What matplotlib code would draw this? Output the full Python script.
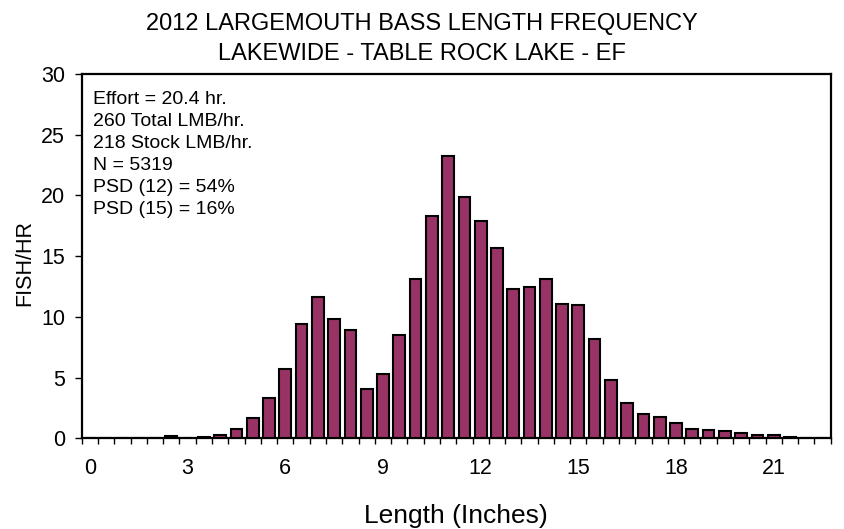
import matplotlib
matplotlib.use("Agg")
import matplotlib.pyplot as plt
from matplotlib.ticker import FixedLocator

plt.rcParams['font.family'] = ['Liberation Sans', 'DejaVu Sans']

length_bins = [0.0, 0.5, 1.0, 1.5, 2.0, 2.5, 3.0, 3.5, 4.0, 4.5, 5.0, 5.5,
               6.0, 6.5, 7.0, 7.5, 8.0, 8.5, 9.0, 9.5, 10.0, 10.5, 11.0, 11.5,
               12.0, 12.5, 13.0, 13.5, 14.0, 14.5, 15.0, 15.5, 16.0, 16.5,
               17.0, 17.5, 18.0, 18.5, 19.0, 19.5, 20.0, 20.5, 21.0, 21.5,
               22.0, 22.5]
fish_per_hr = [0, 0, 0, 0, 0, 0.2, 0, 0.12, 0.25, 0.74, 1.67, 3.35,
               5.74, 9.44, 11.6, 9.85, 8.95, 4.06, 5.3, 8.48, 13.15, 18.3, 23.25, 19.9,
               17.9, 15.7, 12.27, 12.46, 13.1, 11.03, 10.95, 8.15, 4.83, 2.9,
               1.97, 1.73, 1.26, 0.77, 0.68, 0.6, 0.46, 0.3, 0.25, 0.1,
               0, 0]
x_tick_labels = ["0", "3", "6", "9", "12", "15", "18", "21"]
y_ticks = [0, 5, 10, 15, 20, 25, 30]
stats_lines = ["Effort = 20.4 hr.", "260 Total LMB/hr.", "218 Stock LMB/hr.",
               "N = 5319", "PSD (12) = 54%", "PSD (15) = 16%"]
title = "2012 LARGEMOUTH BASS LENGTH FREQUENCY\nLAKEWIDE - TABLE ROCK LAKE - EF"

fig = plt.figure(figsize=(8.44, 5.29), dpi=100)
ax = fig.add_axes([0.0968, 0.1715, 0.8875, 0.6886])

pos = list(range(len(length_bins)))
ax.bar(pos, fish_per_hr, width=0.72, color="#993366", edgecolor="black",
       linewidth=1.5, zorder=3)

ax.set_xlim(-0.5, len(length_bins) - 0.5)
ax.set_ylim(0, 30)

label_pos = [i for i, v in enumerate(length_bins) if v in [float(t) for t in x_tick_labels]]
ax.set_xticks(label_pos)
ax.set_xticklabels(x_tick_labels)
ax.xaxis.set_minor_locator(FixedLocator([p - 0.5 for p in range(len(length_bins) + 1)]))
ax.tick_params(axis='x', which='major', length=0, pad=14, labelsize=15.5)
ax.tick_params(axis='x', which='minor', length=4.5, width=1.0, direction='out')
ax.set_yticks(y_ticks)
ax.tick_params(axis='y', which='major', length=5, width=1.0, direction='out', pad=7,
               labelsize=15.5)

for s in ax.spines.values():
    s.set_linewidth(1.6)
    s.set_color("black")

ax.set_ylabel("FISH/HR", fontsize=15.5)
ax.yaxis.set_label_coords(-0.062, 0.481)
ax.set_xlabel("Length (Inches)", fontsize=19, labelpad=18)
fig.text(0.5, 0.975, title, fontsize=17, ha='center', va='top', linespacing=1.45)

ax.text(0.015, 0.952, "\n".join(stats_lines), transform=ax.transAxes,
        fontsize=14, va='top', ha='left', linespacing=1.37)

fig.savefig("out.png", dpi=100)
